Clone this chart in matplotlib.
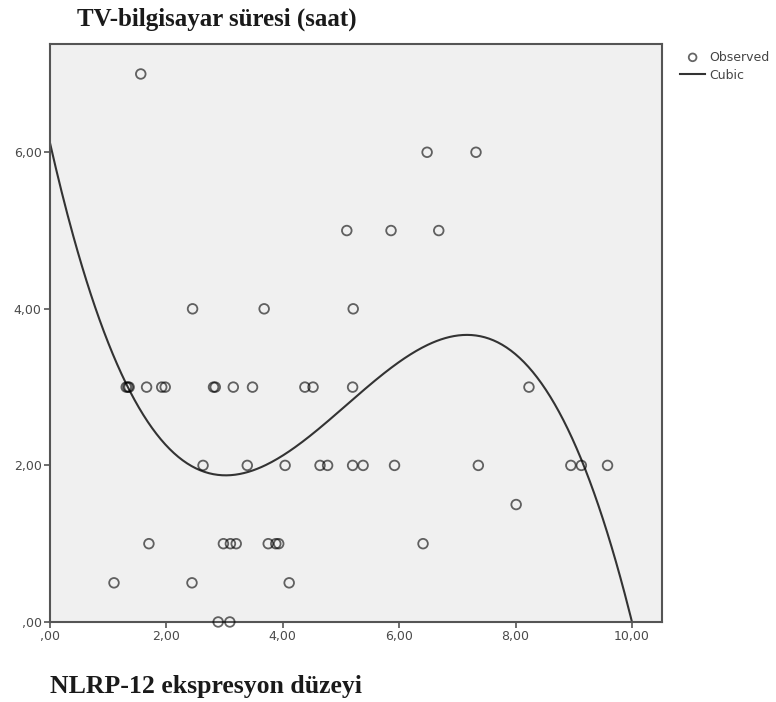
import numpy as np
import matplotlib.pyplot as plt

# NLRP-12 expression vs. TV/computer time (hours)
obs_x = [1.56,
         6.48, 7.32,
         5.10, 5.86, 6.68,
         2.45, 3.68, 5.21,
         1.31, 1.34, 1.36, 1.66, 1.92, 1.98, 2.81, 2.84, 3.15, 3.48,
         4.38, 4.52, 5.20, 8.23,
         2.63, 3.39, 4.04, 4.64, 4.77, 5.20, 5.38, 5.92, 7.36, 8.95, 9.13, 9.58,
         8.01,
         1.70, 2.98, 3.10, 3.20, 3.75, 3.88, 3.93, 6.41,
         1.10, 2.44, 4.11,
         2.89, 3.09]
obs_y = [7,
         6, 6,
         5, 5, 5,
         4, 4, 4,
         3, 3, 3, 3, 3, 3, 3, 3, 3, 3,
         3, 3, 3, 3,
         2, 2, 2, 2, 2, 2, 2, 2, 2, 2, 2, 2,
         1.5,
         1, 1, 1, 1, 1, 1, 1, 1,
         0.5, 0.5, 0.5,
         0, 0]

# cubic fit coefficients b0 + b1*x + b2*x^2 + b3*x^3
cubic_coef = [6.12, -3.272, 0.770, -0.0504]

x_ticks = [0, 2, 4, 6, 8, 10]
y_ticks = [0, 2, 4, 6]


def fmt(v):
    s = f"{v:.2f}".replace(".", ",")
    return s[1:] if s.startswith("0") else s


fig = plt.figure(figsize=(7.76, 7.02), dpi=100)
ax = fig.add_axes([0.0644, 0.114, 0.789, 0.823])
ax.set_facecolor("#f0f0f0")

xs = np.linspace(0, 10, 400)
ys = np.polyval(cubic_coef[::-1], xs)

pts = ax.scatter(obs_x, obs_y, s=48, facecolors="none", edgecolors="#000000",
                 alpha=0.6, linewidths=1.3, zorder=3, clip_on=False)
line, = ax.plot(xs, ys, color="#333333", lw=1.5, zorder=2)

ax.set_xlim(0, 10.52)
ax.set_ylim(0, 7.38)
ax.set_xticks(x_ticks)
ax.set_yticks(y_ticks)
ax.set_xticklabels([fmt(v) for v in x_ticks])
ax.set_yticklabels([fmt(v) for v in y_ticks])
ax.tick_params(direction="out", length=4, width=1.2, color="#555555",
               labelsize=9, labelcolor="#4a4a4a", pad=2)
for sp in ax.spines.values():
    sp.set_color("#555555")
    sp.set_linewidth(1.5)

fig.text(0.099, 0.973, "TV-bilgisayar süresi (saat)", family="Liberation Serif",
         fontweight="bold", fontsize=18, color="#1a1a1a", va="center")
fig.text(0.064, 0.022, "NLRP-12 ekspresyon düzeyi", family="Liberation Serif",
         fontweight="bold", fontsize=18.5, color="#1a1a1a", va="center")

leg = fig.legend([pts, line], ["Observed", "Cubic"], loc="upper left",
                 bbox_to_anchor=(0.870, 0.935), frameon=False, fontsize=9,
                 handlelength=2.0, handletextpad=0.3, labelspacing=0.4,
                 labelcolor="#444444", borderaxespad=0, markerscale=0.8)

fig.savefig("out.png", dpi=100)
